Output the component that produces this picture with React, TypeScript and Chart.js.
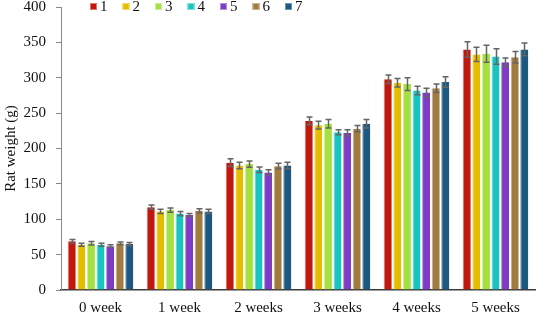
import React, { useEffect, useRef } from "react";
import { Chart, registerables } from "chart.js";

Chart.register(...registerables);

const categories = ["0 week", "1 week", "2 weeks", "3 weeks", "4 weeks", "5 weeks"];
const seriesNames = ["1", "2", "3", "4", "5", "6", "7"];
const colors = ["#C0180C", "#E4BC00", "#A4E040", "#18C4C0", "#7C3CC4", "#A07C40", "#1C5880"];
const edgeColors = ["#E07870", "#F2DC70", "#D0F0A0", "#80E0DE", "#B890E0", "#CCB490", "#6C98B8"];

const s1 = [69, 117, 180, 239, 298, 340];
const s2 = [64, 111, 176, 233, 293, 333];
const s3 = [66, 113, 178, 235, 291, 334];
const s4 = [64, 108, 170, 223, 282, 330];
const s5 = [62, 106, 166, 222, 279, 322];
const s6 = [66, 112, 175, 228, 285, 329];
const s7 = [65, 111, 176, 235, 294, 340];

const e1 = [2.5, 3, 5.5, 5.5, 6, 11];
const e2 = [2, 3, 4.5, 5.5, 6, 10];
const e3 = [2.5, 3, 4.5, 6, 9, 12];
const e4 = [2, 3, 4, 3.5, 6, 11];
const e5 = [2, 2, 4, 4.5, 6, 6];
const e6 = [2, 3, 4, 4.5, 6, 8];
const e7 = [2, 3, 4.5, 6, 7.5, 9];

const values = [s1, s2, s3, s4, s5, s6, s7];
const errors = [e1, e2, e3, e4, e5, e6, e7];

const yTicks = [0, 50, 100, 150, 200, 250, 300, 350, 400];

const FONT = "'Liberation Serif', serif";

const errorBarPlugin = {
  id: "errorBars",
  afterDatasetsDraw(chart: any) {
    const ctx = chart.ctx;
    const yScale = chart.scales.y;
    ctx.save();
    ctx.strokeStyle = "#646464";
    ctx.lineWidth = 1.5;
    chart.data.datasets.forEach((ds: any, di: number) => {
      const meta = chart.getDatasetMeta(di);
      meta.data.forEach((bar: any, i: number) => {
        const v = ds.data[i];
        const err = ds.errors[i];
        const x = Math.round(bar.x) + 0.5;
        const yTop = yScale.getPixelForValue(v + err);
        const yBot = yScale.getPixelForValue(v - err);
        ctx.beginPath();
        ctx.moveTo(x, yTop);
        ctx.lineTo(x, yBot);
        ctx.moveTo(x - 3, yTop);
        ctx.lineTo(x + 3, yTop);
        ctx.moveTo(x - 3, yBot);
        ctx.lineTo(x + 3, yBot);
        ctx.stroke();
      });
    });
    ctx.restore();
  },
};

const legendPlugin = {
  id: "customLegend",
  afterDraw(chart: any) {
    const ctx = chart.ctx;
    ctx.save();
    ctx.font = `15px ${FONT}`;
    ctx.textBaseline = "middle";
    ctx.textAlign = "left";
    chart.data.datasets.forEach((ds: any, i: number) => {
      const x = 90 + i * 32.5;
      ctx.fillStyle = ds.backgroundColor;
      ctx.fillRect(x, 3, 7, 7);
      ctx.strokeStyle = ds.borderColor;
      ctx.lineWidth = 1;
      ctx.strokeRect(x + 0.5, 3.5, 6, 6);
      ctx.fillStyle = "#111";
      ctx.fillText(ds.label, x + 10, 7.5);
    });
    ctx.restore();
  },
};

export default function App() {
  const ref = useRef<HTMLCanvasElement>(null);
  useEffect(() => {
    if (!ref.current) return;
    const chart = new Chart(ref.current, {
      type: "bar",
      data: {
        labels: categories,
        datasets: seriesNames.map((name, i) => ({
          label: name,
          data: values[i],
          errors: errors[i],
          backgroundColor: colors[i],
          borderColor: edgeColors[i],
          borderWidth: { left: 1, right: 0, top: 0, bottom: 0 },
          categoryPercentage: 0.85,
          barPercentage: 0.84,
        })) as any,
      },
      options: {
        animation: false,
        responsive: false,
        maintainAspectRatio: false,
        layout: { padding: { top: 7, right: 1, left: 0, bottom: 0 } },
        plugins: {
          legend: { display: false },
          tooltip: { enabled: false },
        },
        scales: {
          x: {
            grid: { display: false },
            border: { display: true, color: "#3a3a3a", width: 1.5 },
            ticks: { color: "#111", font: { family: FONT, size: 15 }, padding: 1 },
            afterFit(scale: any) {
              scale.height = 25;
            },
          },
          y: {
            min: 0,
            max: 400,
            afterBuildTicks(scale: any) {
              scale.ticks = yTicks.map((v) => ({ value: v }));
            },
            grid: { drawOnChartArea: false, tickLength: 5, color: "#888" },
            border: { display: true, color: "#888", width: 1 },
            ticks: { color: "#111", font: { family: FONT, size: 15 }, padding: 10 },
            title: {
              display: true,
              text: "Rat weight (g)",
              color: "#111",
              font: { family: FONT, size: 15 },
              padding: { top: 2, bottom: 0 },
            },
            afterFit(scale: any) {
              scale.width = 61;
              scale.paddingTop = 0;
              scale.paddingBottom = 0;
            },
          },
        },
      },
      plugins: [errorBarPlugin, legendPlugin],
    });
    return () => chart.destroy();
  }, []);
  return (
    <div style={{ position: "fixed", left: 0, top: 0, width: 536, height: 315, background: "#fff" }}>
      <canvas ref={ref} width={536} height={315} style={{ width: 536, height: 315 }} />
    </div>
  );
}
